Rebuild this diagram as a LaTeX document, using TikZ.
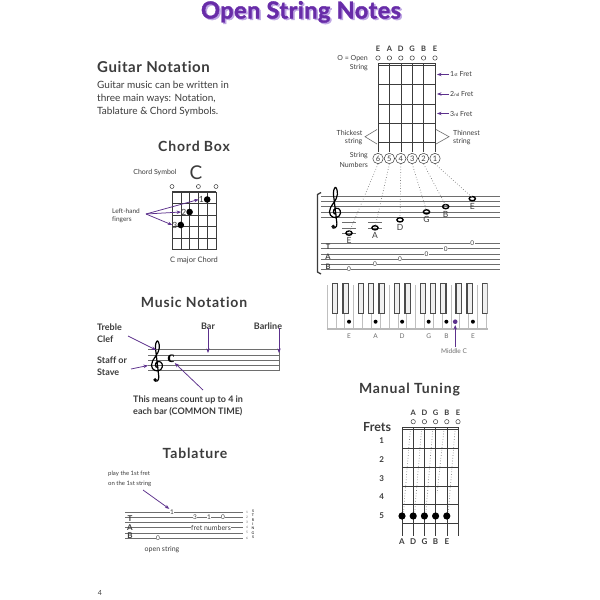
\documentclass[tikz,border=0pt]{standalone}
\usepackage{fontspec}
\setmainfont{Lato}[Ligatures={NoCommon,NoDiscretionary}]
\newfontfamily\titlefont{Lato}[BoldFeatures={FakeBold=1.6}, LetterSpace=2.0, Ligatures={NoCommon,NoDiscretionary}]
\newfontfamily\hfont{Lato}[LetterSpace=6.0, Ligatures={NoCommon,NoDiscretionary}]
\newfontfamily\gfont{Lato}[LetterSpace=4.0, Ligatures={NoCommon,NoDiscretionary}]
\newfontfamily\serfont{Liberation Serif}
\usetikzlibrary{arrows.meta}
\definecolor{tpurple}{RGB}{104,44,168}
\definecolor{tshadow}{RGB}{190,165,228}
\definecolor{apurple}{RGB}{92,48,140}
\definecolor{tgray}{RGB}{60,60,60}
\definecolor{lgray}{RGB}{110,110,110}
\newcommand\myfs[1]{\fontsize{#1}{#1}\selectfont}
\tikzset{
  clefpic/.pic={
    \draw[line width=1.2pt, line cap=round]
      (1.15,3.45) .. controls (0.5,3.5) and (0.45,2.5) .. (1.1,2.3)
      .. controls (1.9,2.1) and (2.3,3.2) .. (1.7,3.8)
      .. controls (1.1,4.4) and (-0.1,4.0) .. (-0.1,3.0)
      .. controls (-0.1,1.8) and (1.3,1.0) .. (1.4,-0.3)
      .. controls (1.45,-1.2) and (1.1,-1.8) .. (0.95,-1.6)
      .. controls (0.6,-1.2) and (0.6,-0.4) .. (0.75,0.5)
      -- (1.3,5.2) .. controls (1.4,6.0) and (0.6,6.3) .. (0.4,5.8);
    \fill (0.6,5.75) circle (0.34);
  }
}
\begin{document}
\begin{tikzpicture}[x=1pt,y=-1pt,
  lbl/.style={inner sep=0pt, text=tgray},
  head/.style={inner sep=0pt, text=tgray, font=\hfont\bfseries\myfs{14}},
  boldlbl/.style={inner sep=0pt, text=tgray, font=\bfseries\myfs{9}},
  parr/.style={-{Stealth[length=4.5pt,width=3.4pt]}, draw=apurple, line width=0.75pt},
  gridline/.style={draw=tgray, line width=0.5pt},
  stafflines/.style={draw=lgray, line width=0.5pt},
  wnote/.style={draw=black, line width=1.4pt},
  dotline/.style={draw=gray, dotted, line width=0.7pt},
  tabnum/.style={inner sep=0.6pt, fill=white, text=tgray, font=\myfs{6.5}},
]
\useasboundingbox[fill=white] (0,0) rectangle (600,600);

% ---------- title ----------
\node (titleshadow) [inner sep=0, anchor=base, text=tshadow, font=\titlefont\bfseries\myfs{23.5}] at (302.6,19.9) {Open String Notes};
\node (title) [inner sep=0, anchor=base, text=tpurple, font=\titlefont\bfseries\myfs{23.5}] at (301,18.5) {Open String Notes};

% ---------- Guitar Notation ----------
\node (gn) [lbl, anchor=base west, font=\gfont\bfseries\myfs{15}] at (97,72) {Guitar Notation};
\node (gp1) [lbl, anchor=base west, font=\myfs{10}] at (97,88.5) {Guitar music can be written in};
\node (gp2) [lbl, anchor=base west, font=\myfs{10}] at (97,101.5) {three main ways: Notation,};
\node (gp3) [lbl, anchor=base west, font=\myfs{10}] at (97,114.5) {Tablature \& Chord Symbols.};

% ---------- Chord Box ----------
\node (cbh) [head, anchor=base] at (194,151) {Chord Box};
\node (csym) [lbl, font=\myfs{7}] at (155,172.5) {Chord Symbol};
\node (cbig) [lbl, font=\myfs{19}] at (196,172.5) {C};
\foreach \i in {0,...,5} \draw[gridline] ({172+8.8*\i},192) -- ({172+8.8*\i},249.5);
\draw[gridline, line width=1.1pt] (172,192) -- (216,192);
\foreach \j in {1,...,5} \draw[gridline] (172,{192+11.5*\j}) -- (216,{192+11.5*\j});
\foreach \x in {172,198.4,216} \draw[tgray, line width=0.5pt] (\x,186.5) circle (2);
\fill (207.2,199.5) circle (3.3);
\fill (189.6,212) circle (3.3);
\fill (180.8,225) circle (3.3);
\node (f1) [lbl, anchor=east, font=\myfs{8.5}] at (204,199.5) {1};
\node (f2) [lbl, anchor=east, font=\myfs{8.5}] at (186.4,212) {2};
\node (f3) [lbl, anchor=east, font=\myfs{8.5}] at (177.6,225) {3};
\node (lh1) [lbl, anchor=west, font=\myfs{6.5}] at (112,211) {Left-hand};
\node (lh2) [lbl, anchor=west, font=\myfs{6.5}] at (112,220) {fingers};
\coordinate (lh) at (146,214);
\draw[parr] (lh) -- (f1.west);
\draw[parr] (lh) -- (f2.west);
\draw[parr] (lh) -- (f3.west);
\node (cmaj) [lbl, anchor=base, font=\myfs{7.5}] at (194,262) {C major Chord};

% ---------- Music Notation ----------
\node (mnh) [head, anchor=base] at (194,307) {Music Notation};
\node (tc1) [boldlbl, anchor=base west] at (97,330) {Treble};
\node (tc2) [boldlbl, anchor=base west] at (97,342) {Clef};
\node (st1) [boldlbl, anchor=base west] at (97,363) {Staff or};
\node (st2) [boldlbl, anchor=base west] at (97,375) {Stave};
\node (bar) [boldlbl, anchor=base] at (208,329) {Bar};
\node (barl) [boldlbl, anchor=base] at (268,329) {Barline};
\foreach \k in {0,...,4} \draw[stafflines] (148,{349.5+5.25*\k}) -- (279,{349.5+5.25*\k});
\draw[stafflines, line width=0.8pt] (279,349.5) -- (279,370.5);
\pic[scale=5.25] at (152,349.5) {clefpic};
\node (ctime) [inner sep=0, font=\serfont\bfseries\myfs{16}] at (171,359) {c};
\coordinate (clefpt) at (156,350);
\coordinate (stavept) at (148,365.5);
\coordinate (barpt) at (208,353);
\coordinate (barlpt) at (279,353);
\draw[parr] (128,336) -- (clefpt);
\draw[parr] (131,369) -- (stavept);
\draw[parr] (bar.south) ++(0,-1.5) -- (barpt);
\draw[parr] (barl.south) ++(11,-1.5) -- (barlpt);
\node (cm1) [boldlbl, anchor=base west] at (133,402) {This means count up to 4 in};
\node (cm2) [boldlbl, anchor=base west] at (133,414) {each bar (COMMON TIME)};
\draw[parr] (203,390) -- (ctime.south east);

% ---------- Tablature ----------
\node (tbh) [head, anchor=base] at (195,458) {Tablature};
\node (pl1) [lbl, anchor=base west, font=\myfs{6}] at (108,475) {play the 1st fret};
\node (pl2) [lbl, anchor=base west, font=\myfs{6}] at (108,485) {on the 1st string};
\foreach \j in {0,...,5} \draw[stafflines] (125,{512+5.2*\j}) -- (243,{512+5.2*\j});
\node (tT) [inner sep=0, text=tgray, font=\bfseries\myfs{8}] at (130,518.5) {T};
\node (tA) [inner sep=0, text=tgray, font=\bfseries\myfs{8}] at (130,527.5) {A};
\node (tB) [inner sep=0, text=tgray, font=\bfseries\myfs{8}] at (130,536) {B};
\node (n1) [tabnum] at (172,512) {1};
\node (n3) [tabnum] at (195,517.2) {3};
\node (n1b) [tabnum] at (209,517.2) {1};
\node (n0) [tabnum] at (223,517.2) {0};
\node (fn) [tabnum, font=\myfs{7}] at (211,527.6) {fret numbers};
\node (n0o) [tabnum] at (158,538) {0};
\node (os) [lbl, anchor=base, font=\myfs{7}] at (162,551) {open string};
\draw[parr] (143,490) -- (n1.north west);
\foreach \j in {1,...,6} \node (sn\j) [inner sep=0, text=lgray, font=\myfs{3.2}] at (247,{512+5.2*(\j-1)}) {\j};
\foreach \c [count=\j] in {S,T,R,I,N,G,S} \node (sl\j) [inner sep=0, text=tgray, font=\bfseries\myfs{3.6}] at (253,{511+4.4*(\j-1)}) {\c};

% ---------- top-right fretboard ----------
\foreach \n [count=\i from 0] in {E,A,D,G,B,E} {
  \node (top\i) [inner sep=0, text=tgray, font=\bfseries\myfs{7.5}] at ({378+11.4*\i},49) {\n};
  \draw[tgray, line width=0.5pt] ({378+11.4*\i},58) circle (2.2);
  \draw[gridline] ({378+11.4*\i},63) -- ({378+11.4*\i},152);
}
\draw[gridline] (378,63) -- (435,63);
\draw[gridline] (378,65.3) -- (435,65.3);
\foreach \y in {84.5,104,123.5,142} \draw[gridline] (378,\y) -- (435,\y);
\node (os1) [lbl, anchor=east, font=\myfs{7}] at (368,59) {O = Open};
\node (os2) [lbl, anchor=east, font=\myfs{7}] at (368,68) {String};
\foreach \y/\t [count=\k] in {74.5/1{\myfs{4.5}st} Fret,94/2{\myfs{4.5}nd} Fret,113.5/3{\myfs{4.5}rd} Fret} {
  \node (fr\k) [lbl, anchor=west, font=\myfs{7}] at (450,\y) {\t};
  \draw[parr] (fr\k.west) ++(-1.5,0) -- (437,\y);
}
\node (thk1) [lbl, anchor=east, font=\myfs{7}] at (362.5,133) {Thickest};
\node (thk2) [lbl, anchor=east, font=\myfs{7}] at (362.5,142) {string};
\node (thn1) [lbl, anchor=west, font=\myfs{7}] at (453,133) {Thinnest};
\node (thn2) [lbl, anchor=west, font=\myfs{7}] at (453,142) {string};
\draw[lgray, line width=0.6pt] (377,129.5) -- (365,136.7) -- (377,144);
\draw[lgray, line width=0.6pt] (436,129.5) -- (449,136.7) -- (436,144);
\node (sn1) [lbl, anchor=east, font=\myfs{7}] at (368,156) {String};
\node (sn2) [lbl, anchor=east, font=\myfs{7}] at (368,165) {Numbers};
\foreach \n [count=\i from 0] in {6,5,4,3,2,1}
  \node (cn\n) [circle, draw=tgray, line width=0.5pt, inner sep=0, minimum size=10.4pt, text=tgray, font=\myfs{7.5}] at ({378+11.4*\i},158.5) {\n};

% ---------- staff with notes ----------
\draw[tgray, line width=1.3pt] (321,192.5) -- (317.5,194.5) -- (317.5,272) -- (321,274);
\foreach \k in {0,...,4} \draw[stafflines] (321,{196+5.3*\k}) -- (500,{196+5.3*\k});
\pic[scale=5.3] at (330,196) {clefpic};
\node (eight) [inner sep=0, font=\myfs{5}, text=tgray] at (333.5,228) {8};
% ledger lines
\foreach \y in {222.5,227.8,233.1} \draw[lgray, line width=0.6pt] (342,\y) -- (356,\y);
\foreach \y in {222.5,227.8} \draw[lgray, line width=0.6pt] (368,\y) -- (382,\y);
\foreach \x/\y/\l [count=\k] in {349/233.1/E,375/227.8/A,400/219.85/D,426.5/211.9/G,445.7/206.6/B,472.3/198.65/E} {
  \draw[wnote] (\x,\y) ellipse (3.1 and 2.1);
  \node (nt\k) [inner sep=0, minimum size=6pt] at (\x,\y) {};
  \node (nl\k) [inner sep=0, text=tgray, font=\myfs{8.5}] at (\x,{\y+7.5}) {\l};
}
\draw[dotline] (cn6.south) -- ([yshift=-3pt]nt1.north);
\draw[dotline] (cn5.south) -- ([yshift=-3pt]nt2.north);
\draw[dotline] (cn4.south) -- ([yshift=-2pt]nt3.north);
\draw[dotline] (cn3.south) -- ([yshift=-2pt]nt4.north);
\draw[dotline] (cn2.south) -- ([yshift=-2pt]nt5.north);
\draw[dotline] (cn1.south) -- ([yshift=-2pt]nt6.north);
% TAB
\foreach \j in {0,...,5} \draw[stafflines] (321,{243.5+5.2*\j}) -- (500,{243.5+5.2*\j});
\node (rT) [inner sep=0, text=tgray, font=\bfseries\myfs{7.5}] at (328,246.5) {T};
\node (rA) [inner sep=0, text=tgray, font=\bfseries\myfs{7.5}] at (328,257) {A};
\node (rB) [inner sep=0, text=tgray, font=\bfseries\myfs{7.5}] at (328,267) {B};
\foreach \x/\y [count=\k] in {349/269.5,375/264.3,400/259.1,426.5/253.9,445.7/248.7,472.3/243.5}
  \node (tz\k) [tabnum] at (\x,\y) {0};

% ---------- keyboard ----------
\begin{scope}
\clip (326,283) rectangle (487.5,332);
\foreach \i in {0,...,18} \draw[gray!50, line width=0.4pt] ({326.9+8.85*\i},285) -- ({326.9+8.85*\i},328);
\foreach \b/\o in {1/-1,2/1,4/-1.5,5/0,6/1.5,8/-1,9/1,11/-1.5,12/0,13/1.5,15/-1,16/1,18/-1.5}
  \draw[draw=gray!60!black, fill=gray!12, line width=1.2pt] ({326.9+8.85*\b+\o-2.6},283.5) rectangle ({326.9+8.85*\b+\o+2.6},313.5);
\end{scope}
\draw[gray!55, line width=2.2pt] (326.9,329.2) -- (487.5,329.2);
\foreach \i/\l [count=\k] in {2/E,5/A,8/D,11/G,13/B,16/E} {
  \fill ({326.9+8.85*(\i+0.5)},321.7) circle (2);
  \node (kl\k) [inner sep=0, text=lgray, font=\myfs{6.5}] at ({326.9+8.85*(\i+0.5)},336) {\l};
}
\fill[apurple] (455.2,321.7) circle (2.3);
\node (midc) [inner sep=0, text=lgray, font=\myfs{6.5}] at (454,351.5) {Middle C};
\draw[parr] (midc.north) ++(1.2,-1.5) -- (455.2,325);

% ---------- Manual Tuning ----------
\node (mth) [head, anchor=base] at (409.5,393) {Manual Tuning};
\node (frets) [lbl, anchor=base west, font=\bfseries\myfs{12.5}] at (363,431) {Frets};
\foreach \n [count=\i] in {A,D,G,B,E} {
  \node (mt\i) [inner sep=0, text=tgray, font=\bfseries\myfs{7.5}] at ({402+11.2*\i},413) {\n};
  \draw[tgray, line width=0.5pt] ({402+11.2*\i},421.7) circle (2.2);
}
\foreach \i in {0,...,5} \draw[gridline] ({402+11.2*\i},427) -- ({402+11.2*\i},536);
\draw[gridline] (402,427) -- (458,427);
\draw[gridline] (402,429.5) -- (458,429.5);
\foreach \j in {1,...,5} \draw[gridline] (402,{429.5+18.8*\j}) -- (458,{429.5+18.8*\j});
\foreach \y [count=\j] in {441,459.5,478.3,496.7,516}
  \node (fnum\j) [inner sep=0, text=tgray, font=\bfseries\myfs{8}] at (381.7,\y) {\j};
\foreach \n [count=\i from 0] in {A,D,G,B,E} {
  \fill ({402+11.2*\i},516) circle (3.6);
  \node (mb\i) [inner sep=0, text=tgray, font=\bfseries\myfs{8}] at ({402+11.2*\i},542) {\n};
}
\foreach \i/\e in {0/512,1/512,2/512,3/493,4/512}
  \draw[dotline] ({402+11.2*(\i+1)-3},431) -- ({402+11.2*\i+1.5},\e);

% ---------- page number ----------
\node (pg) [inner sep=0, text=tgray, font=\myfs{7}] at (100,593) {4};
\end{tikzpicture}
\end{document}
